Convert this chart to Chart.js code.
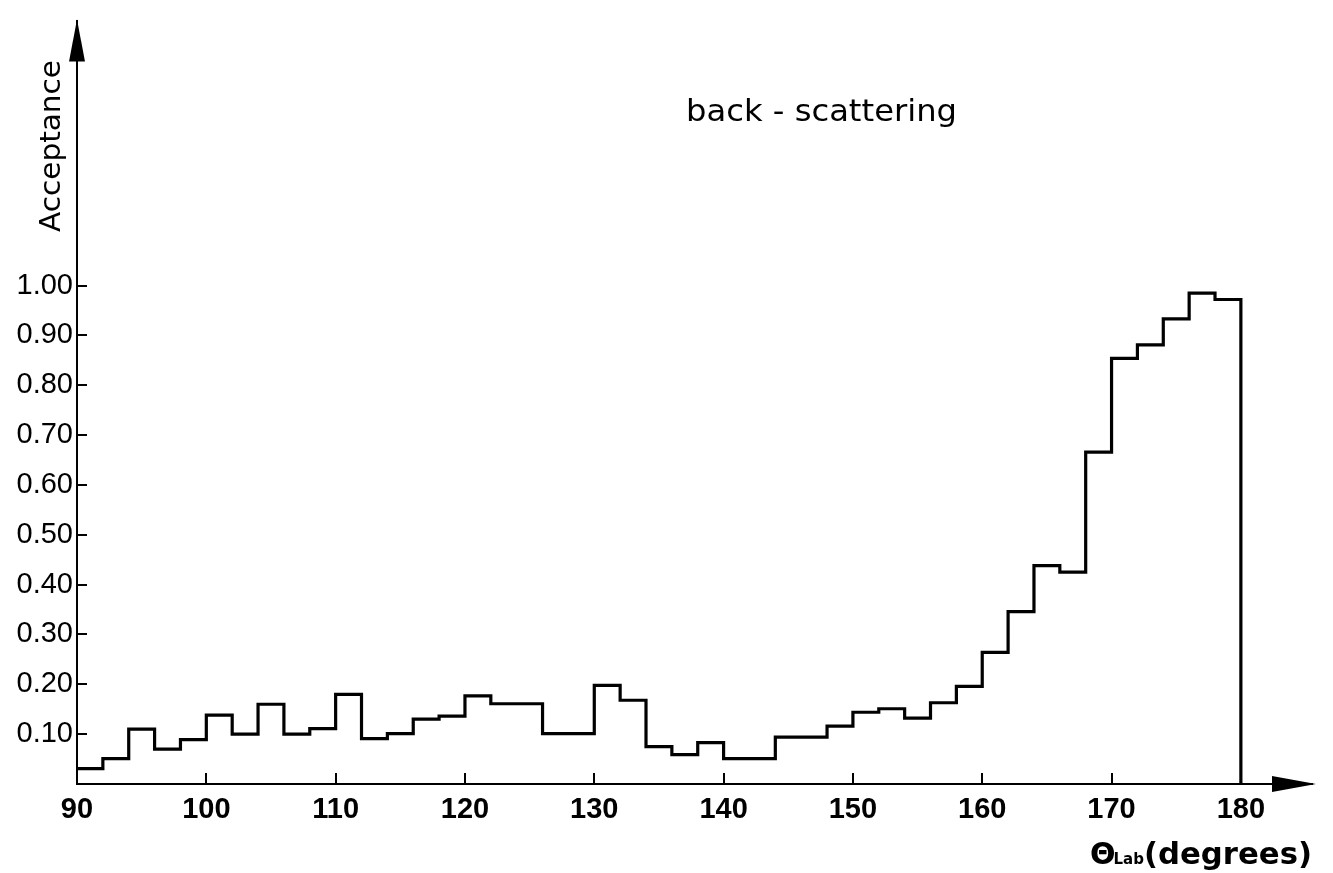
<!DOCTYPE html>
<html>
<head>
<meta charset="utf-8">
<script src="https://cdn.jsdelivr.net/npm/chart.js@4/dist/chart.umd.min.js"></script>
<style>
html,body{margin:0;padding:0;background:#fff;}
#wrap{width:1333px;height:873px;position:relative;}
</style>
</head>
<body>
<div id="wrap"><canvas id="c" width="1333" height="873"></canvas></div>
<script>
// Bin edges (degrees) of the histogram, 2-degree bins from 90 to 180
const binEdges = [90,92,94,96,98,100,102,104,106,108,110,112,114,116,118,120,122,124,126,128,130,132,134,136,138,140,142,144,146,148,150,152,154,156,158,160,162,164,166,168,170,172,174,176,178,180];
// Acceptance per bin (value of the bin starting at the matching edge)
const acceptance = [0.031,0.051,0.110,0.070,0.089,0.138,0.100,0.160,0.100,0.111,
                    0.180,0.091,0.101,0.130,0.136,0.177,0.161,0.161,0.101,0.101,
                    0.198,0.168,0.075,0.059,0.083,0.051,0.051,0.094,0.094,0.116,
                    0.144,0.151,0.132,0.163,0.196,0.264,0.346,0.438,0.425,0.666,
                    0.854,0.881,0.933,0.985,0.972];
const xTickValues = [90,100,110,120,130,140,150,160,170,180];
const yTickValues = [0.1,0.2,0.3,0.4,0.5,0.6,0.7,0.8,0.9,1.0];
const yTickLabels = ["0.10","0.20","0.30","0.40","0.50","0.60","0.70","0.80","0.90","1.00"];
const titleText = "back - scattering";
const yAxisTitle = "Acceptance";
const xAxisTitle = ["\u0398", "Lab", "(degrees)"];

const points = binEdges.map((e,i)=>({x:e, y: i < acceptance.length ? acceptance[i] : 0}));

const deco = {
  id:'deco',
  afterDraw(chart){
    const {ctx, scales:{x,y}} = chart;
    const left = x.left, bottom = y.bottom, top = y.top, right = x.right;
    ctx.save();
    ctx.strokeStyle = '#000'; ctx.fillStyle = '#000'; ctx.lineWidth = 2;
    // inward tick marks
    y.ticks.forEach(t=>{
      const py = Math.round(y.getPixelForValue(t.value));
      ctx.beginPath(); ctx.moveTo(left, py); ctx.lineTo(left+10, py); ctx.stroke();
    });
    x.ticks.forEach(t=>{
      if (t.value === x.min) return;
      const px = Math.round(x.getPixelForValue(t.value));
      ctx.beginPath(); ctx.moveTo(px, bottom); ctx.lineTo(px, bottom-11); ctx.stroke();
    });
    // arrow heads
    ctx.beginPath();
    ctx.moveTo(left, top-2); ctx.lineTo(left-8, top+40); ctx.lineTo(left+8, top+40); ctx.closePath(); ctx.fill();
    ctx.beginPath();
    ctx.moveTo(right+4, bottom); ctx.lineTo(right-40, bottom-8); ctx.lineTo(right-40, bottom+8); ctx.closePath(); ctx.fill();
    // title
    ctx.font = '30px "DejaVu Sans"';
    ctx.textBaseline = 'alphabetic';
    ctx.textAlign = 'left';
    let w = ctx.measureText(titleText).width;
    ctx.save(); ctx.translate(686, 121); ctx.scale(271/w, 1); ctx.fillText(titleText, 0, 0); ctx.restore();
    // y axis title
    ctx.save();
    ctx.font = '29px "DejaVu Sans"';
    w = ctx.measureText(yAxisTitle).width;
    ctx.translate(60, 232); ctx.rotate(-Math.PI/2); ctx.scale(172/w,1);
    ctx.fillText(yAxisTitle, 0, 0);
    ctx.restore();
    // x axis title
    ctx.save();
    ctx.font = 'bold 30px "DejaVu Sans"';
    let xx = 1090;
    ctx.fillText(xAxisTitle[0], xx, 864); xx += ctx.measureText(xAxisTitle[0]).width - 2;
    ctx.font = 'bold 15px "DejaVu Sans"';
    ctx.fillText(xAxisTitle[1], xx, 864); xx += ctx.measureText(xAxisTitle[1]).width;
    ctx.font = 'bold 30px "DejaVu Sans"';
    w = ctx.measureText(xAxisTitle[2]).width;
    ctx.translate(xx, 864); ctx.scale((1312-xx)/w, 1);
    ctx.fillText(xAxisTitle[2], 0, 0);
    ctx.restore();
    ctx.restore();
  }
};

new Chart(document.getElementById('c'), {
  type:'line',
  data:{ datasets:[{
    data: points,
    stepped: 'before',
    borderColor:'#000',
    borderWidth:3.2,
    pointRadius:0,
    fill:false,
    tension:0
  }]},
  options:{
    responsive:false,
    animation:false,
    events:[],
    layout:{padding:{top:12, right:21, left:0, bottom:0}},
    plugins:{legend:{display:false}, tooltip:{enabled:false}},
    scales:{
      x:{
        type:'linear', min:90, max:185.5,
        afterFit(s){ s.height = 89; },
        afterBuildTicks(s){ s.ticks = xTickValues.map(v=>({value:v})); },
        grid:{display:true, drawOnChartArea:false, drawTicks:false},
        border:{display:true, color:'#000', width:2},
        ticks:{color:'#000', padding:9, maxRotation:0, autoSkip:false,
          font:{family:'Liberation Sans', size:29, weight:'bold'},
          callback:(v)=>String(v)}
      },
      y:{
        type:'linear', min:0, max:1.53,
        afterFit(s){ s.width = 77; },
        afterBuildTicks(s){ s.ticks = yTickValues.map(v=>({value:v})); },
        grid:{display:true, drawOnChartArea:false, drawTicks:false},
        border:{display:true, color:'#000', width:2},
        ticks:{color:'#000', padding:4, autoSkip:false,
          font:{family:'Liberation Sans', size:29},
          callback:(v)=>{ const i = yTickValues.findIndex(t=>Math.abs(t-v)<1e-9); return i>=0 ? yTickLabels[i] : ''; }}
      }
    }
  },
  plugins:[deco]
});
</script>
</body>
</html>
